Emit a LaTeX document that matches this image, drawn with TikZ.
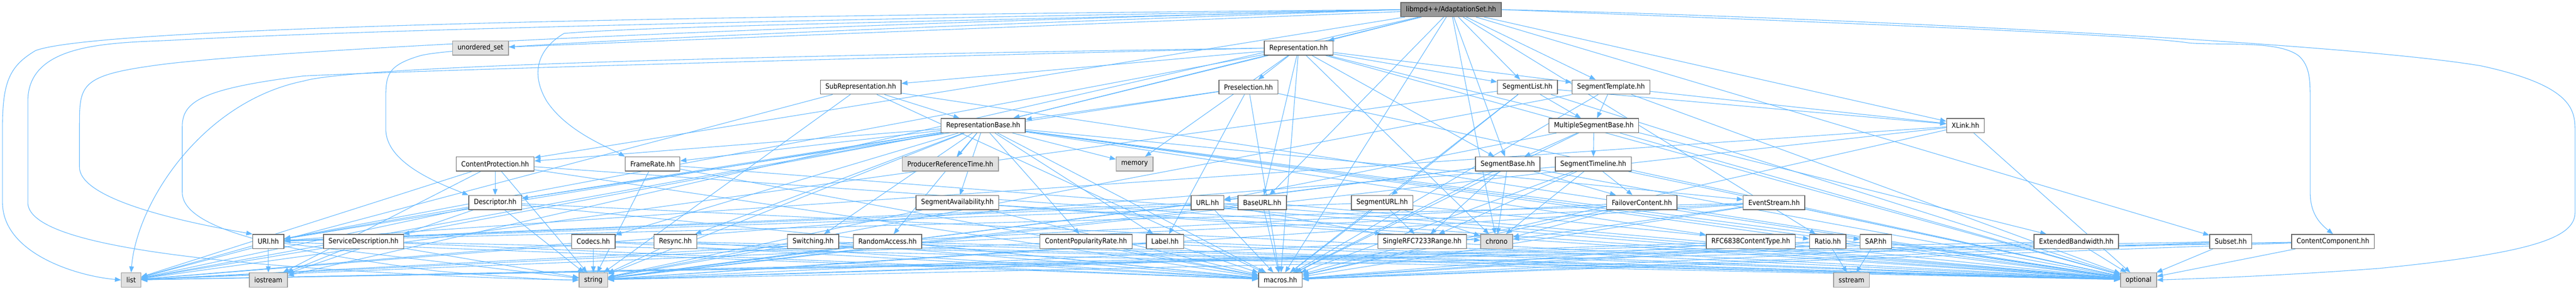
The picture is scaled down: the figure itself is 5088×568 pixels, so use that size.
\documentclass[tikz,border=0pt]{standalone}
\usepackage{fontspec}
\setmainfont{DejaVu Sans Condensed}
\usetikzlibrary{positioning,arrows.meta,backgrounds}
\definecolor{edgeblue}{HTML}{63B8FF}
\definecolor{boxline}{HTML}{666666}
\definecolor{sysfill}{HTML}{E0E0E0}
\definecolor{sysline}{HTML}{999999}
\definecolor{rootfill}{HTML}{999999}

\begin{document}
\begin{tikzpicture}[
		x=0.5pt,y=-0.5pt,
		>={Stealth[length=6pt,width=4.6pt,inset=0pt]},
		hdr/.style={
			draw=boxline,
			line width=0.7pt,
			fill=white,
			rectangle,
			inner xsep=5pt,
			inner ysep=0pt,
			minimum height=14pt
		},
		sys/.style={hdr,draw=sysline,fill=sysfill},
		root/.style={hdr,fill=rootfill},
		inc/.style={->,draw=edgeblue,line width=0.55pt},
		every node/.style={font=\fontsize{7}{8}\selectfont}
		]
		\useasboundingbox (0,0) rectangle (5088,568);
		
		% Root file
		\node[root] (adset) at (2866,19) {libmpd++/AdaptationSet.hh};
		
		% Row 1
		\node[sys] (unordered) at (949,95) {unordered\_set};
		\node[hdr] (rep) at (2565,95) {Representation.hh};
		
		% Row 2
		\node[hdr] (subrep) at (1700,172) {SubRepresentation.hh};
		\node[hdr] (presel) at (2466,172) {Preselection.hh};
		\node[hdr] (seglist) at (3017,172) {SegmentList.hh};
		\node[hdr] (segtmpl) at (3182,172) {SegmentTemplate.hh};
		
		% Row 3
		\node[hdr] (repbase) at (1942,248) {RepresentationBase.hh};
		\node[hdr] (msegbase) at (3148,248) {MultipleSegmentBase.hh};
		\node[hdr] (xlink) at (3882,248) {XLink.hh};
		
		% Row 4
		\node[hdr] (cprot) at (978,324) {ContentProtection.hh};
		\node[hdr] (frate) at (1289,324) {FrameRate.hh};
		\node[sys] (prt) at (1877,324) {ProducerReferenceTime.hh};
		\node[sys] (memory) at (2241,324) {memory};
		\node[hdr] (segbase) at (2978,324) {SegmentBase.hh};
		\node[hdr] (segtl) at (3147,324) {SegmentTimeline.hh};
		
		% Row 5
		\node[hdr] (desc) at (978,400) {Descriptor.hh};
		\node[hdr] (segavail) at (1891,400) {SegmentAvailability.hh};
		\node[hdr] (url) at (2385,400) {URL.hh};
		\node[hdr] (baseurl) at (2493,400) {BaseURL.hh};
		\node[hdr] (segurl) at (2730,400) {SegmentURL.hh};
		\node[hdr] (failover) at (3243,400) {FailoverContent.hh};
		\node[hdr] (evstream) at (3504,400) {EventStream.hh};
		
		% Row 6
		\node[hdr] (uri) at (530,477) {URI.hh};
		\node[hdr] (servdesc) at (718,477) {ServiceDescription.hh};
		\node[hdr] (codecs) at (1172,477) {Codecs.hh};
		\node[hdr] (resync) at (1334,477) {Resync.hh};
		\node[hdr] (switching) at (1606,477) {Switching.hh};
		\node[hdr] (randacc) at (1753,477) {RandomAccess.hh};
		\node[hdr] (cpoprate) at (2145,477) {ContentPopularityRate.hh};
		\node[hdr] (label) at (2301,477) {Label.hh};
		\node[hdr] (rfcrange) at (2809,477) {SingleRFC7233Range.hh};
		\node[sys] (chrono) at (2956,477) {chrono};
		\node[hdr] (ctype) at (3458,477) {RFC6838ContentType.hh};
		\node[hdr] (ratio) at (3610,477) {Ratio.hh};
		\node[hdr] (sap) at (3705,477) {SAP.hh};
		\node[hdr] (extbw) at (4101,477) {ExtendedBandwidth.hh};
		\node[hdr] (subset) at (4406,477) {Subset.hh};
		\node[hdr] (ccomp) at (4608,477) {ContentComponent.hh};
		
		% Row 7
		\node[sys] (list) at (259,553) {list};
		\node[sys] (iostream) at (530,553) {iostream};
		\node[sys] (string) at (1172,553) {string};
		\node[hdr] (macros) at (2529,553) {macros.hh};
		\node[sys] (sstream) at (3657,553) {sstream};
		\node[sys] (optional) at (4224,553) {optional};
		
		\begin{scope}[on background layer]
			% Straight includes
			\foreach \src/\dsts in {
				adset/{rep,seglist,segtmpl,segbase,baseurl,xlink,repbase,cprot,ratio,macros,chrono,subset,iostream,unordered},
				rep/{presel,subrep,repbase,segbase,seglist,segtmpl,baseurl,extbw,uri,chrono,memory,macros,optional},
				presel/{repbase,desc,label,macros,optional},
				subrep/{repbase,macros,optional,list,string},
				repbase/{prt,memory,segavail,randacc,cpoprate,label,codecs,resync,switching,frate,cprot,desc,evstream,ctype,ratio,sap,uri,servdesc,list,string,optional,macros},
				seglist/{msegbase,segurl,xlink,macros,optional,list},
				segtmpl/{msegbase,xlink,macros,optional,string},
				msegbase/{segbase,segtl,url,macros,optional},
				segbase/{rfcrange,chrono,failover,url,macros,optional,string},
				segtl/{failover,chrono,rfcrange,macros,optional,list},
				failover/{chrono,macros,optional,list},
				segurl/{rfcrange,uri,chrono,macros,optional},
				url/{uri,rfcrange,macros,optional,string},
				baseurl/{uri,macros,optional,string},
				xlink/{uri,macros,optional,string},
				evstream/{uri,chrono,macros,optional,string,list},
				desc/{uri,iostream,list,string,macros,optional},
				cprot/{desc,list,string,macros,optional,iostream},
				frate/{string,macros,optional},
				segavail/{chrono,macros,optional,string},
				uri/{list,iostream,string,macros},
				servdesc/{list,iostream,string,macros,optional},
				codecs/{string,list,macros,optional},
				resync/{string,macros,optional},
				switching/{string,macros,optional},
				randacc/{string,macros,optional},
				cpoprate/{list,macros,optional},
				label/{string,macros,optional},
				rfcrange/{string,macros,optional},
				ctype/{string,macros},
				ratio/{sstream,string,macros,optional},
				sap/{sstream,macros,optional},
				extbw/{optional,list,macros},
				subset/{optional,list,macros},
				ccomp/{optional,list,string,macros}}
			\foreach \dst in \dsts
			\draw[inc] (\src) -- (\dst);
			
			% Includes routed round the outside
			\draw[inc] (adset.west) .. controls (1500,30) and (200,50) .. (70,100)
			.. controls (20,130) and (5,160) .. (5,250) -- (5,400)
			.. controls (5,500) and (150,545) .. (list.west);
			\draw[inc] (adset.west) .. controls (1500,40) and (700,60) .. (330,80)
			.. controls (200,85) and (55,90) .. (55,200) -- (55,400)
			.. controls (55,470) and (300,510) .. (700,535)
			.. controls (900,547) and (1050,552) .. (string.west);
			\draw[inc] (adset.west) .. controls (1500,50) and (500,100) .. (300,130)
			.. controls (157,150) and (157,170) .. (157,250) -- (157,330)
			.. controls (157,400) and (400,445) .. (uri.north west);
			\draw[inc] (rep.west) .. controls (1500,110) and (700,130) .. (600,160)
			.. controls (400,200) and (270,400) .. (list.north);
			\draw[inc] (rep.west) .. controls (1500,120) and (800,140) .. (600,150)
			.. controls (400,175) and (360,200) .. (360,250) -- (360,380)
			.. controls (360,460) and (600,500) .. (860,535)
			.. controls (1000,548) and (1100,553) .. (string.west);
			\draw[inc] (adset.west) .. controls (1600,60) and (900,90) .. (830,110)
			.. controls (762,130) and (762,150) .. (762,200) -- (762,255)
			.. controls (762,320) and (860,360) .. (desc.north west);
			\draw[inc] (adset.west) .. controls (2000,40) and (1300,50) .. (1114,66)
			.. controls (1057,100) and (1050,150) .. (1080,200)
			.. controls (1120,260) and (1200,290) .. (frate.north west);
			\draw[inc] (adset.east) .. controls (3500,30) and (4600,80) .. (4900,130)
			.. controls (5086,170) and (5086,220) .. (5086,260) -- (5086,420)
			.. controls (5086,470) and (5000,500) .. (4700,530)
			.. controls (4500,545) and (4350,550) .. (optional.east);
			\draw[inc] (adset.east) .. controls (3500,40) and (4200,66) .. (4325,85)
			.. controls (4400,90) and (4500,80) .. (4540,110)
			.. controls (4563,130) and (4563,160) .. (4563,200) -- (4563,380)
			.. controls (4563,420) and (4580,440) .. (ccomp.north);
		\end{scope}
	\end{tikzpicture}
\end{document}
